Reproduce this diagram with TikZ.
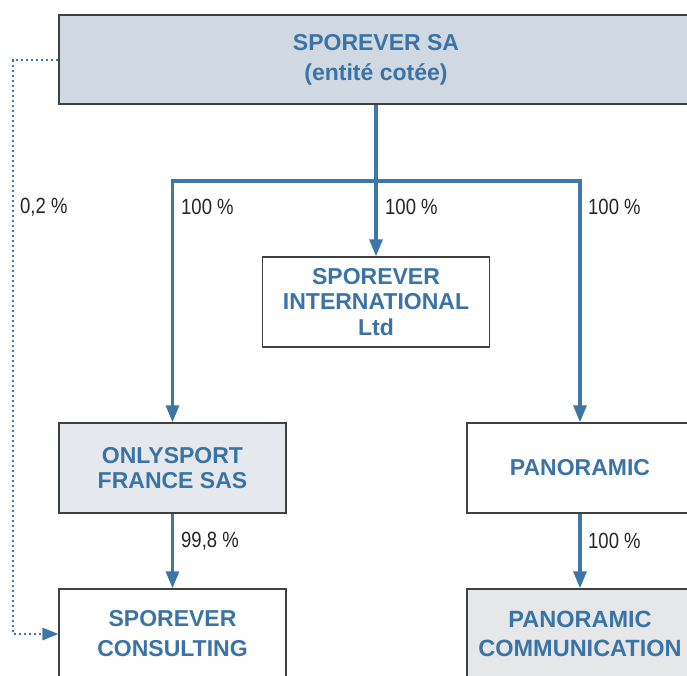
\documentclass[tikz,border=0pt]{standalone}
\usepackage{fontspec}
\setmainfont{Liberation Sans}
\newfontfamily\condfont{Liberation Sans}[FakeStretch=0.84]
\usetikzlibrary{arrows.meta}
\definecolor{txtblue}{HTML}{3A73A5}
\definecolor{lineblue}{HTML}{3D77A8}
\definecolor{topfill}{HTML}{D0D8E1}
\definecolor{onlyfill}{HTML}{E5E8ED}
\definecolor{commfill}{HTML}{E6E7E9}
\definecolor{bordergray}{HTML}{404040}
\tikzset{
  box/.style={draw=bordergray, line width=1.4pt, rectangle, inner sep=0pt, align=center,
    text=txtblue, font=\bfseries\fontsize{23}{25}\selectfont},
  conn/.style={draw=lineblue, line width=3.2pt},
  arr/.style={conn, -{Triangle[width=13pt,length=17pt]}},
  dotline/.style={draw=lineblue, line width=2pt, dash pattern=on 2pt off 3pt},
  pct/.style={anchor=west, inner sep=0pt, text=black!85, font=\condfont\fontsize{22}{24}\selectfont}
}
\begin{document}
\begin{tikzpicture}[x=1pt,y=-1pt]
\useasboundingbox (0,0) rectangle (687,675);
\clip (0,0) rectangle (687,675);
\node[box, fill=topfill, minimum width=634pt, minimum height=89pt, font=\bfseries\fontsize{23}{30}\selectfont] (sa) at (376,59.5) {SPOREVER SA\\(entité cotée)};
\node[box, fill=white, minimum width=227pt, minimum height=90pt, font=\bfseries\fontsize{23}{25.5}\selectfont] (intl) at (376,302) {SPOREVER\\INTERNATIONAL\\Ltd};
\node[box, fill=onlyfill, minimum width=227pt, minimum height=90pt, font=\bfseries\fontsize{23}{24.5}\selectfont] (only) at (172.5,468) {ONLYSPORT\\FRANCE SAS};
\node[box, fill=white, minimum width=226pt, minimum height=90pt] (pano) at (580,468) {PANORAMIC};
\node[box, fill=white, minimum width=227pt, minimum height=90pt, font=\bfseries\fontsize{23}{30}\selectfont] (cons) at (172.5,634) {SPOREVER\\CONSULTING};
\node[box, fill=commfill, minimum width=226pt, minimum height=90pt, font=\bfseries\fontsize{23.5}{29}\selectfont] (comm) at (580,634) {PANORAMIC\\COMMUNICATION};
\coordinate (bus) at (376,181);
\coordinate (busl) at (only.north |- bus);
\coordinate (busr) at (pano.north |- bus);
\coordinate (dtop) at (13,60);
\coordinate (dbot) at (13,634);
\draw[conn] (sa.south) -- (bus);
\draw[conn, line cap=rect] (busl) -- (busr);
\draw[arr] (bus) -- (intl.north);
\draw[arr] (busl) -- (only.north);
\draw[arr] (busr) -- (pano.north);
\draw[arr] (only.south) -- (cons.north);
\draw[arr] (pano.south) -- (comm.north);
\draw[dotline] (sa.west |- dtop) -- (dtop) -- (dbot) -- ([xshift=-14pt]cons.west);
\fill[lineblue] (cons.west) -- ++(-16,-6.5) -- ++(0,13) -- cycle;
\node[pct] (l1) at (20,207) {0,2 \%};
\node[pct] (l2) at (181,207) {100 \%};
\node[pct] (l3) at (385,207) {100 \%};
\node[pct] (l4) at (588,207) {100 \%};
\node[pct] (l5) at (181,541) {99,8 \%};
\node[pct] (l6) at (588,541) {100 \%};
\end{tikzpicture}
\end{document}
